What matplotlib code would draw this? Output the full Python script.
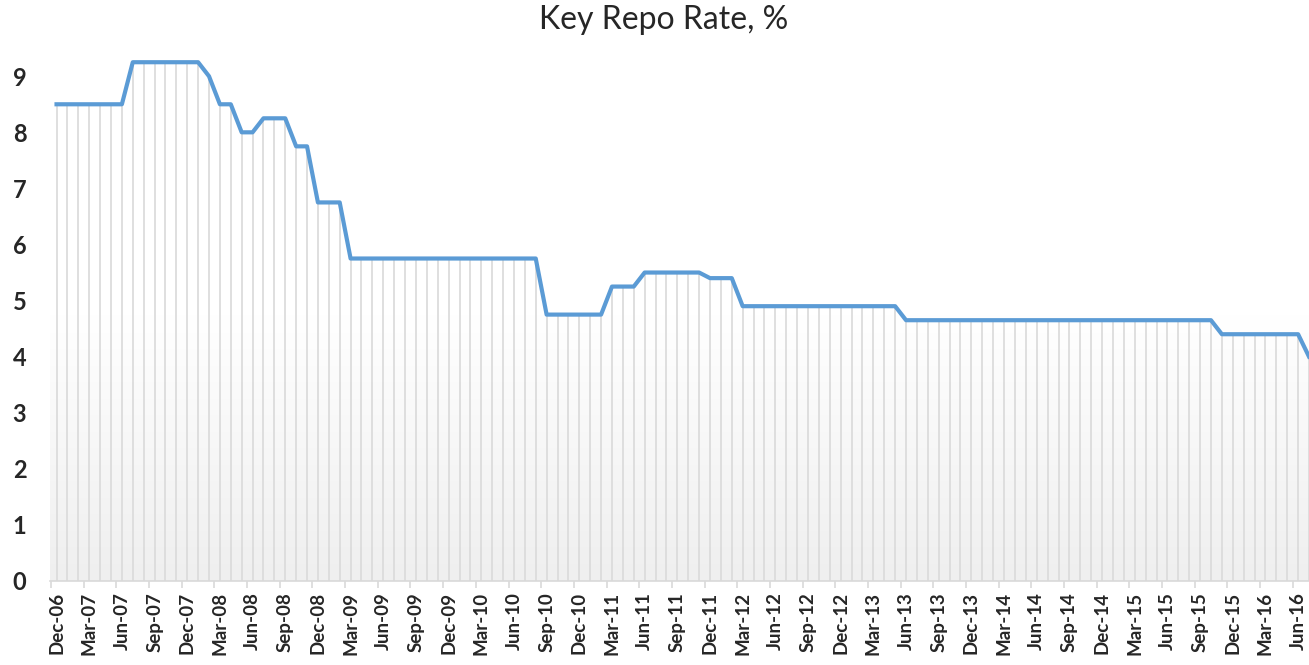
import numpy as np
import pandas as pd
import matplotlib.pyplot as plt
from matplotlib.colors import LinearSegmentedColormap

plt.rcParams['font.family'] = ['Lato', 'DejaVu Sans']

# monthly key repo rate, Dec-06 .. Jul-16
months = pd.date_range('2006-12-01', periods=116, freq='MS')
rates = [8.5, 8.5, 8.5, 8.5, 8.5, 8.5, 8.5,
         9.25, 9.25, 9.25, 9.25, 9.25, 9.25, 9.25,
         9.0, 8.5, 8.5, 8.0, 8.0, 8.25, 8.25, 8.25, 7.75, 7.75,
         6.75, 6.75, 6.75,
         5.75, 5.75, 5.75, 5.75, 5.75, 5.75, 5.75, 5.75, 5.75,
         5.75, 5.75, 5.75, 5.75, 5.75, 5.75, 5.75, 5.75, 5.75,
         4.75, 4.75, 4.75, 4.75, 4.75, 4.75,
         5.25, 5.25, 5.25,
         5.5, 5.5, 5.5, 5.5, 5.5, 5.5,
         5.4, 5.4, 5.4,
         4.9, 4.9, 4.9, 4.9, 4.9, 4.9, 4.9, 4.9, 4.9, 4.9, 4.9, 4.9, 4.9, 4.9, 4.9,
         4.65, 4.65, 4.65, 4.65, 4.65, 4.65, 4.65, 4.65, 4.65, 4.65,
         4.65, 4.65, 4.65, 4.65, 4.65, 4.65, 4.65, 4.65, 4.65, 4.65,
         4.65, 4.65, 4.65, 4.65, 4.65, 4.65, 4.65, 4.65, 4.65,
         4.4, 4.4, 4.4, 4.4, 4.4, 4.4, 4.4, 4.4,
         4.0]
labels = [m.strftime('%b-%y') for m in months]

x = np.arange(len(rates))
W, H = 1309, 665
fig = plt.figure(figsize=(W/100, H/100), dpi=100)
ax = fig.add_axes([50/W, (H-581)/H, (W-50)/W, (581-51)/H])

xlim = (-0.6, 115.0)
ylim = (0, 9.45)
# plot area gradient
cmap = LinearSegmentedColormap.from_list('bg', ['#ffffff', '#ffffff', '#efefef'])
ax.imshow(np.linspace(0, 1, 256).reshape(-1, 1), cmap=cmap, aspect='auto',
          extent=(xlim[0], xlim[1], ylim[0], ylim[1]), origin='upper', zorder=0)

ax.vlines(x, 0, rates, color='#dcdcdc', lw=1.3, zorder=1)
ax.plot(x, rates, color='#5B9BD5', lw=3.0, solid_joinstyle='round', zorder=3)

ax.set_xlim(xlim)
ax.set_ylim(ylim)
for s in ['left', 'top', 'right']:
    ax.spines[s].set_visible(False)
ax.spines['bottom'].set_color('#d9d9d9')
ax.spines['bottom'].set_linewidth(1.2)

ax.set_xticks(x[::3])
ax.set_xticklabels(labels[::3], rotation=90, fontsize=13.5, fontweight='bold', color='#262626')
ax.set_xticks(x[::3] - 0.5, minor=True)
ax.tick_params(axis='x', which='major', length=0, pad=8)
ax.tick_params(axis='x', which='minor', length=5, width=1.2, color='#d9d9d9')

ax.set_yticks(range(10))
ax.set_yticklabels([str(v) for v in range(10)], fontsize=17, fontweight='bold', color='#262626')
ax.tick_params(axis='y', length=0, pad=17)

fig.text(664/W, 1-29.3/H, 'Key Repo Rate, %', ha='center', va='baseline',
         fontsize=23, color='#262626')

plt.savefig('out.png', dpi=100)
